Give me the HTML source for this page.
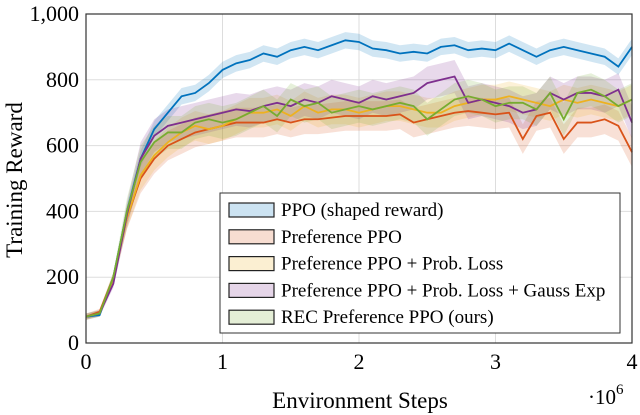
<!DOCTYPE html>
<html><head><meta charset="utf-8"><style>
body{margin:0;background:#fff}
svg{display:block;font-family:"Liberation Serif",serif}
</style></head><body>
<svg id="chart" width="640" height="415" viewBox="0 0 640 415"></svg>
<script>
const xs=[0,0.1,0.2,0.3,0.4,0.5,0.6,0.7,0.8,0.9,1.0,1.1,1.2,1.3,1.4,1.5,1.6,1.7,1.8,1.9,2.0,2.1,2.2,2.3,2.4,2.5,2.6,2.7,2.8,2.9,3.0,3.1,3.2,3.3,3.4,3.5,3.6,3.7,3.8,3.9,4.0];
const ppo=[80,85,200,400,560,650,700,750,760,790,830,850,860,880,870,890,900,890,905,920,915,895,890,880,885,880,900,905,890,895,890,910,890,870,890,900,890,880,870,840,900];
const pref=[80,95,200,380,500,560,600,620,640,650,660,670,670,670,680,670,680,680,685,690,690,690,690,695,670,680,690,700,705,700,695,700,620,690,700,620,670,670,680,660,580];
const prob=[80,90,190,380,510,570,610,640,660,650,660,680,700,700,710,690,720,700,710,710,700,710,720,720,710,700,700,720,730,740,740,750,740,730,720,740,730,740,730,720,740];
const gauss=[80,90,180,390,560,630,660,670,680,690,700,710,705,720,730,720,740,730,750,740,730,750,740,750,760,790,800,810,730,740,730,720,700,710,760,740,760,760,750,770,670];
const rec=[80,90,200,400,550,610,640,640,670,680,670,680,700,720,690,740,720,730,700,710,720,710,720,730,720,680,710,740,750,740,720,730,730,710,760,680,760,770,750,720,740];
const bandW=[25,45,45,50,50];
const seriesNames=["PPO (shaped reward)","Preference PPO","Preference PPO + Prob. Loss","Preference PPO + Prob. Loss + Gauss Exp","REC Preference PPO (ours)"];
const xTicks=[0,1,2,3,4];
const yTicks=[0,200,400,600,800,1000];
const yTickLabels=["0","200","400","600","800","1,000"];

const colors=["#0072BD","#D95319","#EDB120","#7E2F8E","#77AC30"];
const keys=["ppo","pref","prob","gauss","rec"];
const L=86,R=632,T=14,B=343;
const sx=v=>L+(v/4)*(R-L);
const sy=v=>B-(v/1000)*(B-T);
const svg=document.getElementById('chart');
const NS="http://www.w3.org/2000/svg";
function mk(tag,attrs,parent){const e=document.createElementNS(NS,tag);for(const k in attrs)e.setAttribute(k,attrs[k]);(parent||svg).appendChild(e);return e;}

xTicks.forEach(t=>{const g=mk('line',{x1:sx(t),x2:sx(t),y1:T,y2:B,stroke:'#ddd','stroke-width':1});

});
yTicks.forEach(t=>{const g=mk('line',{x1:L,x2:R,y1:sy(t),y2:sy(t),stroke:'#ddd','stroke-width':1});

});

const all=[ppo,pref,prob,gauss,rec];
all.forEach((d,i)=>{
  const w=v=>bandW[i]*Math.min(1,Math.max(0.2,(v-80)/400));
  let p='';
  d.forEach((v,j)=>{p+=(j?'L':'M')+sx(xs[j])+','+sy(Math.min(1000,v+w(v)))});
  for(let j=d.length-1;j>=0;j--)p+='L'+sx(xs[j])+','+sy(Math.max(0,d[j]-w(d[j])));
  const b=mk('path',{d:p+'Z',fill:colors[i],'fill-opacity':0.18,stroke:'none'});
  
  
});
all.forEach((d,i)=>{
  const p=d.map((v,j)=>(j?'L':'M')+sx(xs[j])+','+sy(v)).join('');
  const l=mk('path',{d:p,fill:'none',stroke:colors[i],'stroke-width':1.8});
  
  
});
const f=mk('rect',{x:L,y:T,width:R-L,height:B-T,fill:'none',stroke:'#333','stroke-width':1.2});


xTicks.forEach(t=>{const e=mk('text',{x:sx(t),y:B+26,'text-anchor':'middle','font-size':22});e.textContent=t;

});
yTicks.forEach((t,i)=>{const e=mk('text',{x:L-7,y:sy(t)+7,'text-anchor':'end','font-size':22});e.textContent=yTickLabels[i];

});
const xt=mk('text',{x:360,y:408,'text-anchor':'middle','font-size':23});xt.textContent='Environment Steps';


const yt=mk('text',{x:0,y:0,'text-anchor':'middle','font-size':23,transform:'translate(22,180) rotate(-90)'});yt.textContent='Training Reward';


const ex=mk('text',{x:588,y:404,'font-size':21});ex.innerHTML='·10<tspan dy="-10" font-size="15">6</tspan>';


const lg=mk('g',{});


mk('rect',{x:220,y:193,width:400,height:140,fill:'#fff',stroke:'#333','stroke-width':1},lg);
seriesNames.forEach((n,i)=>{
  const y=210+i*26.8;
  const ent=mk('g',{},lg);
  
  
  mk('rect',{x:229,y:y-7,width:45,height:14,fill:colors[i],'fill-opacity':0.2,stroke:'#222','stroke-width':1.2},ent);
  const t=mk('text',{x:281,y:y+6,'font-size':19},ent);t.textContent=n;
});
</script>
</body></html>
